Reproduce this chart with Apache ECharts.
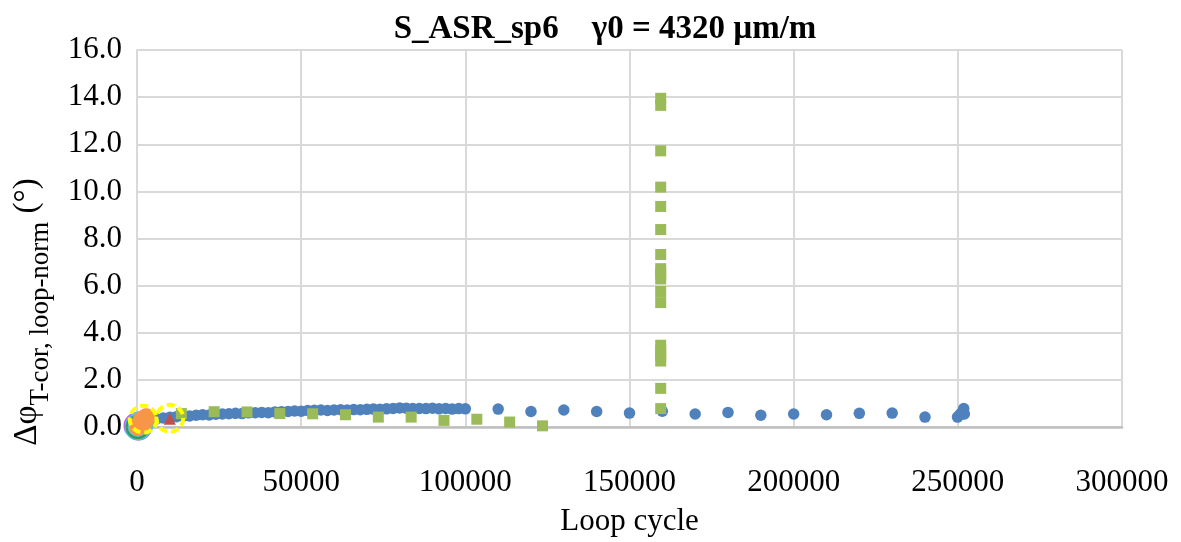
<!DOCTYPE html>
<html>
<head>
<meta charset="utf-8">
<script src="https://cdn.jsdelivr.net/npm/echarts@6/dist/echarts.min.js"></script>
<style>
html,body{margin:0;padding:0;background:#fff;}
#chart{width:1181px;height:542px;}
</style>
</head>
<body>
<div id="chart"></div>
<script>
// ---- data ----
var titleText = 'S_ASR_sp6    \u03b30 = 4320 \u00b5m/m';
var xAxisName = 'Loop cycle';
var yNameMain = '\u0394\u03c6';
var yNameSub = 'T-cor, loop-norm';
var yNameUnit = ' (\u00b0)';
var xTicks = { min: 0, max: 300000, interval: 50000 };
var yTicks = { min: 0, max: 16, interval: 2 };

// blue: dense band then sparse points
var blueX = [4000,6000,8000,10000,12000,14000,16000,18000,20000,22000,24000,26000,28000,30000,32000,34000,36000,38000,40000,42000,44000,46000,48000,50000,52000,54000,56000,58000,60000,62000,64000,66000,68000,70000,72000,74000,76000,78000,80000,82000,84000,86000,88000,90000,92000,94000,96000,98000,100000,
  110000,120000,130000,140000,150000,160000,170000,180000,190000,200000,210000,220000,230000,240000,
  249900,250500,251000,251500,251800,252000];
var blueY = [0.30,0.34,0.38,0.41,0.44,0.46,0.47,0.50,0.52,0.51,0.54,0.55,0.56,0.58,0.57,0.60,0.61,0.62,0.61,0.64,0.65,0.66,0.68,0.67,0.70,0.71,0.72,0.70,0.72,0.73,0.72,0.74,0.73,0.75,0.76,0.75,0.77,0.79,0.81,0.80,0.78,0.79,0.78,0.80,0.77,0.79,0.76,0.78,0.77,
  0.76,0.66,0.72,0.66,0.59,0.67,0.55,0.62,0.50,0.55,0.52,0.58,0.59,0.42,
  0.42,0.50,0.58,0.66,0.78,0.55];

// green squares
var greenX = [3500,13500,23500,33500,43500,53500,63500,73500,83500,93500,103500,113500,123500,
  159500,159500,159500,159500,159500,159500,159500,159500,159500,159500,159500,159500,159500,159500,159500,159500,159500,159500];
var greenY = [0.25,0.57,0.65,0.64,0.57,0.56,0.52,0.42,0.42,0.28,0.33,0.21,0.05,
  13.95,13.65,11.72,10.18,9.36,8.38,7.32,6.72,6.50,6.28,5.75,5.28,3.47,3.25,3.02,2.80,1.64,0.78];

// red triangle
var redX = [10000];
var redY = [0.35];

// cluster near origin
var purpleX = [0, 500];
var purpleY = [0.05, 0.0];
var cyanX = [300, 900];
var cyanY = [0.0, 0.10];
var greenRingX = [200];
var greenRingY = [0.0];
var orangeX = [200, 800, 1400, 2000, 2800];
var orangeY = [0.0, 0.12, 0.30, 0.20, 0.42];
var yellowX = [1900, 10000];
var yellowY = [0.33, 0.37];

function pairs(xs, ys) { return xs.map(function (x, i) { return [x, ys[i]]; }); }

var FONT = '"Liberation Serif", "Times New Roman", serif';
var MAIN_SIZE = 33, SUB_SIZE = 27;

// measure y-axis name parts to lay them end to end (rotated)
var ctx = document.createElement('canvas').getContext('2d');
function textW(t, size) { ctx.font = size + 'px ' + FONT; return ctx.measureText(t).width; }
var w1 = textW(yNameMain, MAIN_SIZE), w2 = textW(yNameSub, SUB_SIZE), w3 = textW(yNameUnit, MAIN_SIZE);
var yCenter = 312, total = w1 + w2 + w3, yStart = yCenter + total / 2;
function rotText(txt, size, x, y) {
  return { type: 'text', x: x, y: y, rotation: Math.PI / 2,
    style: { text: txt, fontFamily: FONT, fontSize: size, fill: '#000', align: 'left', verticalAlign: 'bottom' } };
}

var chart = echarts.init(document.getElementById('chart'), null, { renderer: 'canvas' });
chart.setOption({
  animation: false,
  backgroundColor: '#ffffff',
  title: {
    text: titleText,
    left: 600, top: 8, textAlign: 'center',
    textStyle: { fontFamily: FONT, fontSize: 33, fontWeight: 'bold', color: '#000' }
  },
  grid: { left: 137, right: 59, top: 50, bottom: 100 },
  xAxis: {
    type: 'value', min: xTicks.min, max: xTicks.max, interval: xTicks.interval,
    name: xAxisName, nameLocation: 'middle', nameGap: 79,
    nameTextStyle: { fontFamily: FONT, fontSize: 31, color: '#000' },
    axisLine: { show: true, lineStyle: { color: '#BFBFBF', width: 2.5 } },
    axisTick: { show: false },
    axisLabel: { fontFamily: FONT, fontSize: 31, color: '#000', margin: 40,
      formatter: function (v) { return String(v); } },
    splitLine: { show: true, lineStyle: { color: '#D9D9D9', width: 2 } }
  },
  yAxis: {
    type: 'value', min: yTicks.min, max: yTicks.max, interval: yTicks.interval,
    axisLine: { show: true, lineStyle: { color: '#D9D9D9', width: 2 } },
    axisTick: { show: false },
    axisLabel: { fontFamily: FONT, fontSize: 31, color: '#000', margin: 15,
      formatter: function (v) { return v.toFixed(1); } },
    splitLine: { show: true, lineStyle: { color: '#D9D9D9', width: 2 } }
  },
  graphic: [
    rotText(yNameMain, MAIN_SIZE, 44, yStart),
    rotText(yNameSub, SUB_SIZE, 54, yStart - w1),
    rotText(yNameUnit, MAIN_SIZE, 44, yStart - w1 - w2)
  ],
  series: [
    { type: 'scatter', data: pairs(purpleX, purpleY), symbol: 'circle', symbolSize: 24,
      itemStyle: { color: 'rgba(0,0,0,0)', borderColor: '#CC55EE', borderWidth: 3, opacity: 1 } },
    { type: 'scatter', data: pairs(cyanX, cyanY), symbol: 'circle', symbolSize: 24,
      itemStyle: { color: 'rgba(0,0,0,0)', borderColor: '#4BC6E0', borderWidth: 3, opacity: 1 } },
    { type: 'scatter', data: pairs(greenRingX, greenRingY), symbol: 'circle', symbolSize: 22,
      itemStyle: { color: 'rgba(0,0,0,0)', borderColor: '#3E9651', borderWidth: 2, opacity: 1 } },
    { type: 'scatter', data: pairs(blueX, blueY), symbol: 'circle', symbolSize: 11.5,
      itemStyle: { color: '#4F81BD', opacity: 1 } },
    { type: 'scatter', data: pairs(greenX, greenY), symbol: 'rect', symbolSize: 11,
      itemStyle: { color: '#9BBB59', opacity: 1 } },
    { type: 'scatter', data: pairs(redX, redY), symbol: 'triangle', symbolSize: 12,
      itemStyle: { color: '#C0504D', opacity: 1 } },
    { type: 'scatter', data: pairs(orangeX, orangeY), symbol: 'circle', symbolSize: 18,
      itemStyle: { color: '#F79646', opacity: 1 } },
    { type: 'scatter', data: pairs(yellowX, yellowY), symbol: 'circle', symbolSize: 27,
      itemStyle: { color: 'rgba(0,0,0,0)', borderColor: '#FFFF00', borderWidth: 4, borderType: [8, 4], opacity: 1 } }
  ]
});
</script>
</body>
</html>
